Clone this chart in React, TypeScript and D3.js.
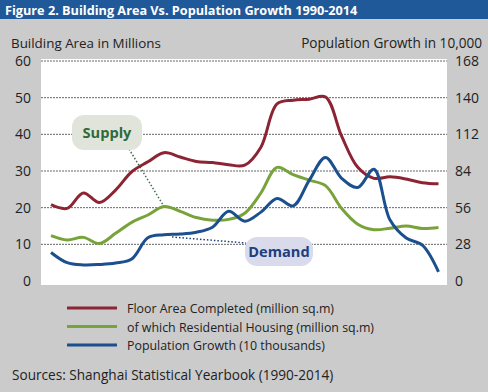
import React, { useEffect, useRef } from "react";
import * as d3 from "d3";

const years = d3.range(1990, 2015);
const floorArea = [20.8, 19.8, 24, 21.4, 24.8, 29.8, 32.5, 35, 33.8, 32.6, 32.3, 31.7, 31.6, 36.5, 48.3, 49.3, 49.6, 50.2, 39.5, 31, 28, 28.4, 27.8, 26.8, 26.5];
const residential = [12.4, 11.2, 11.9, 10.2, 13, 16, 18, 20.3, 19, 17.3, 16.6, 16.8, 18.5, 24, 31, 29, 27.5, 26, 19.8, 15.5, 14, 14.4, 15, 14.3, 14.6];
const population = [21.8, 14, 12.3, 12.6, 13.7, 16.8, 33, 35.3, 35.8, 37.2, 41, 53.2, 45.6, 52.6, 63, 57.4, 77, 94.4, 78.4, 71.4, 85.4, 46.5, 32.8, 27.4, 7];
const leftTicks = [0, 10, 20, 30, 40, 50, 60];
const rightTicks = [0, 28, 56, 84, 112, 140, 168];
const seriesNames = [
  "Floor Area Completed (million sq.m)",
  "of which Residential Housing (million sq.m)",
  "Population Growth (10 thousands)",
];
const colors = ["#8c2434", "#78a33b", "#1b4f8e"];

export default function App() {
  const ref = useRef<SVGSVGElement>(null);

  useEffect(() => {
    const W = 488, H = 392;
    const svg = d3.select(ref.current).attr("width", W).attr("height", H);
    svg.selectAll("*").remove();
    const font = "'Open Sans', sans-serif";

    svg.append("rect").attr("width", W).attr("height", H).attr("fill", "#cbcbcb");
    svg.append("rect").attr("width", W).attr("height", 19).attr("fill", "#1f5999");
    svg.append("text").attr("x", 5).attr("y", 14.5).attr("fill", "#fff")
      .style("font-family", font).style("font-size", "12.7px").style("font-weight", 700)
      .text("Figure 2. Building Area Vs. Population Growth 1990-2014");

    const left = 41, right = 447, top = 59, bottom = 285;
    svg.append("rect").attr("x", left).attr("y", top).attr("width", right - left).attr("height", bottom - top).attr("fill", "#fff");

    const x = d3.scaleLinear().domain([1990, 2014]).range([51, 438.5]);
    const yL = d3.scaleLinear().domain([0, 60]).range([281, 61]);
    const yR = d3.scaleLinear().domain([0, 168]).range([281, 61]);

    svg.append("g").selectAll("line").data(leftTicks.filter((d) => d > 0)).join("line")
      .attr("x1", left).attr("x2", right)
      .attr("y1", (d) => yL(d)).attr("y2", (d) => yL(d))
      .attr("stroke", "#666").attr("stroke-width", 1).attr("stroke-dasharray", "2,1");

    svg.append("text").attr("x", 11).attr("y", 48).attr("fill", "#222")
      .style("font-family", font).style("font-size", "13.4px").text("Building Area in Millions");
    svg.append("text").attr("x", 482).attr("y", 48).attr("fill", "#222").attr("text-anchor", "end")
      .style("font-family", font).style("font-size", "13.6px").text("Population Growth in 10,000");

    svg.append("g").selectAll("text").data(leftTicks).join("text")
      .attr("x", 31).attr("y", (d) => yL(d) + 5).attr("text-anchor", "end").attr("fill", "#222")
      .style("font-family", font).style("font-size", "14px").text((d) => d);
    svg.append("g").selectAll("text").data(rightTicks).join("text")
      .attr("x", 455).attr("y", (d) => yR(d) + 5).attr("fill", "#222")
      .style("font-family", font).style("font-size", "14px").text((d) => d);

    const lineL = d3.line<number>().x((_, i) => x(years[i])).y((d) => yL(d)).curve(d3.curveCatmullRom);
    const lineR = d3.line<number>().x((_, i) => x(years[i])).y((d) => yR(d)).curve(d3.curveCatmullRom);

    // callout leaders
    svg.append("line").attr("x1", 129).attr("y1", 149).attr("x2", x(1997)).attr("y2", yL(residential[7]))
      .attr("stroke", "#3f6b50").attr("stroke-width", 1.5).attr("stroke-dasharray", "1.5,2");
    svg.append("line").attr("x1", 172).attr("y1", 237).attr("x2", 246).attr("y2", 243)
      .attr("stroke", "#1b3f7a").attr("stroke-width", 1.5).attr("stroke-dasharray", "1.5,2");

    [floorArea, residential].forEach((s, i) => {
      svg.append("path").attr("d", lineL(s)).attr("fill", "none")
        .attr("stroke", colors[i]).attr("stroke-width", 3);
    });
    svg.append("path").attr("d", lineR(population)).attr("fill", "none")
      .attr("stroke", colors[2]).attr("stroke-width", 3);

    // callout boxes
    svg.append("rect").attr("x", 72).attr("y", 115).attr("width", 70).attr("height", 35).attr("rx", 12)
      .attr("fill", "#e0e4da");
    svg.append("text").attr("x", 107).attr("y", 138).attr("text-anchor", "middle").attr("fill", "#2f6a3c")
      .style("font-family", font).style("font-size", "14.6px").style("font-weight", 700).text("Supply");
    svg.append("rect").attr("x", 245).attr("y", 237).attr("width", 68).attr("height", 29).attr("rx", 12)
      .attr("fill", "#d9dbec");
    svg.append("text").attr("x", 279).attr("y", 257).attr("text-anchor", "middle").attr("fill", "#1d3f7c")
      .style("font-family", font).style("font-size", "14.6px").style("font-weight", 700).text("Demand");

    const lg = svg.append("g").selectAll("g").data(seriesNames).join("g")
      .attr("transform", (_, i) => `translate(0, ${308 + i * 18.5})`);
    lg.append("line").attr("x1", 67).attr("x2", 117).attr("stroke", (_, i) => colors[i]).attr("stroke-width", 3);
    lg.append("text").attr("x", 127).attr("y", 5).attr("fill", "#222")
      .style("font-family", font).style("font-size", "12.4px").text((d) => d);

    svg.append("text").attr("x", 12).attr("y", 380).attr("fill", "#222")
      .style("font-family", font).style("font-size", "13.6px").text("Sources: Shanghai Statistical Yearbook (1990-2014)");
  }, []);

  return <svg ref={ref} style={{ position: "absolute", left: 0, top: 0 }} />;
}
